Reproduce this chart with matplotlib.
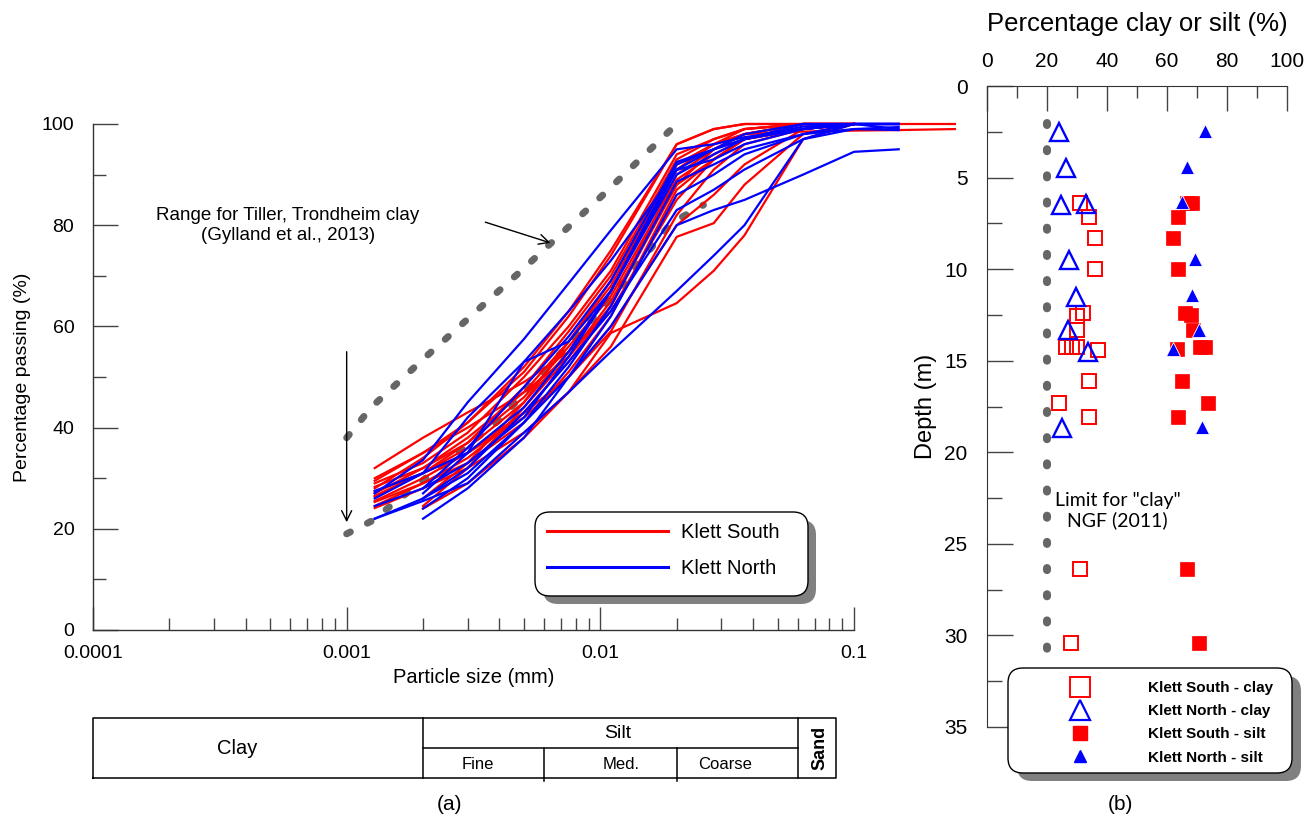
import numpy as np
import matplotlib
matplotlib.use('Agg')
import matplotlib.pyplot as plt
from matplotlib.lines import Line2D
from matplotlib.patches import FancyBboxPatch
from matplotlib.transforms import IdentityTransform
from matplotlib.ticker import LogLocator, NullFormatter, FixedLocator

plt.rcParams['font.family'] = ['Liberation Sans', 'DejaVu Sans']

nan = np.nan

# ---------------- data: grain size curves ----------------
sieve_sizes = [0.00129, 0.002, 0.003, 0.005, 0.0075, 0.011, 0.02, 0.028, 0.037, 0.063, 0.1, 0.15, 0.25]

south_passing = [
    [32.0, 38.0, 43.0, 49.0, 55.0, 63.0, 85.0, 93.0, 97.0, 100, 100, nan, nan],
    [30.0, 35.0, 40.0, 47.0, 54.0, 64.0, 88.0, 95.0, 98.0, 100, 100, nan, nan],
    [29.0, 33.0, 39.0, 50.0, 60.0, 71.0, 94.0, 97.0, 99.0, 100, 100, nan, nan],
    [28.3, 32.0, 37.0, 46.0, 56.0, 66.0, 89.0, 94.0, 97.0, 99, 100, nan, nan],
    [27.3, 31.0, 35.0, 42.0, 50.0, 59.0, 82.0, 91.0, 96.0, 99, 100, nan, nan],
    [26.3, 31.0, 37.0, 48.0, 59.0, 70.0, 93.0, 97.0, 99.0, 100, 100, nan, nan],
    [25.3, 29.0, 33.0, 41.0, 51.0, 62.0, 87.0, 93.0, 97.0, 99, 100, nan, nan],
    [24.1, 28.0, 32.0, 39.0, 47.0, 56.0, 77.7, 80.4, 88.0, 98, 100, nan, nan],
    [29.5, 35.0, 41.0, 51.0, 62.0, 74.0, 96.0, 99.0, 100.0, 100, 100, nan, nan],
    [nan, 24.0, 29.0, 38.0, 47.0, 58.7, 64.6, 71.0, 78.0, 97, 100, nan, nan],
    [nan, 24.5, 32.0, 44.0, 54.0, 65.0, 88.0, 93.0, 97.0, 99, 100, nan, nan],
    [28.0, 34.0, 41.0, 52.0, 63.0, 75.0, 96.0, 99.0, 100.0, 100, 100, 100, 100],
    [27.0, 32.0, 38.0, 47.0, 57.0, 68.0, 92.0, 96.0, 98.0, 98.5, 98.7, 98.8, 99],
    [26.5, 31.0, 36.0, 45.0, 55.0, 67.0, 91.0, 96.0, 99.0, 100, 100, nan, nan],
    [25.5, 30.0, 35.0, 43.0, 53.0, 64.0, 90.0, 95.0, 98.0, 100, 100, nan, nan],
    [nan, 26.0, 33.0, 45.0, 57.0, 69.0, 92.0, 96.0, 98.0, 100, 100, nan, nan],
    [24.5, 29.0, 34.0, 42.9, 50.0, 60.0, 80.0, 86.0, 92.0, 99, 100, nan, nan],
]

north_passing = [
    [27.0, 33.6, 45.0, 57.5, 68.5, 79.0, 95.0, 96.0, 97.4, 99, 100, 100, nan],
    [26.0, 31.0, 42.0, 53.0, 63.0, 73.0, 90.9, 93.0, 96.0, 99, 100, 100, nan],
    [nan, 28.0, 36.0, 48.0, 58.0, 69.0, 92.5, 95.0, 97.0, 100, 100, 100, nan],
    [22.0, 26.0, 31.0, 41.0, 52.0, 64.0, 88.6, 92.0, 95.0, 98, 99, 99.4, nan],
    [22.0, 25.5, 29.0, 39.0, 47.0, 55.0, 67.0, 74.0, 80.0, 97, 100, nan, nan],
    [nan, 24.0, 30.0, 41.0, 50.0, 60.0, 80.0, 83.0, 85.0, 90, 94.5, 95, nan],
    [nan, 26.0, 32.0, 43.0, 53.0, 63.0, 83.0, 87.0, 91.0, 97, 99, 98.8, nan],
    [nan, 27.0, 35.0, 53.0, 57.0, 67.0, 91.0, 95.0, 98.0, 100, 100, 100, nan],
    [27.5, 31.0, 35.0, 44.0, 55.0, 67.0, 92.0, 95.0, 97.0, 99, 100, 100, nan],
    [nan, 22.0, 28.0, 38.0, 50.0, 62.0, 86.0, 90.0, 94.0, 98, 100, 99, nan],
    [24.5, 28.0, 33.0, 42.0, 54.0, 67.0, 90.0, 94.0, 97.0, 99.5, 100, 100, nan],
]

tiller_upper_size = [0.001, 0.00125, 0.002, 0.005, 0.01, 0.02]
tiller_upper_pass = [38, 44, 53.5, 71.5, 85.5, 100]
tiller_lower_size = [0.001, 0.00125, 0.002, 0.004, 0.0106, 0.019, 0.0255]
tiller_lower_pass = [19, 21.5, 29.6, 41.5, 64.6, 80.4, 84]

# soil classification boundaries (mm)
class_edges = [0.0001, 0.002, 0.006, 0.02, 0.06, 0.085]

# ---------------- data: clay / silt content with depth ----------------
south_clay_depth = [6.37, 7.17, 8.32, 10.0, 12.38, 12.56, 13.33, 14.27, 14.27, 14.27, 14.42, 16.1, 17.3, 18.1, 26.4, 30.4]
south_clay_pct   = [31.0, 33.9, 36.0, 36.0, 31.9, 29.9, 29.9, 26.3, 28.2, 30.1, 36.9, 33.9, 24.0, 33.9, 31.0, 27.9]
north_clay_depth = [2.5, 4.5, 6.5, 6.45, 9.5, 11.5, 13.3, 14.5, 18.7]
north_clay_pct   = [24.1, 26.2, 24.8, 33.0, 27.3, 29.6, 27.0, 33.6, 24.9]
south_silt_depth = [6.37, 6.37, 7.17, 8.32, 10.0, 12.38, 12.5, 13.33, 14.38, 14.27, 14.27, 16.1, 17.3, 18.1, 26.4, 30.4]
south_silt_pct   = [66.6, 68.3, 63.8, 61.9, 63.8, 66.0, 67.9, 68.6, 63.2, 71.0, 72.5, 64.9, 73.6, 63.8, 66.8, 70.8]
north_silt_depth = [2.44, 4.4, 6.32, 9.43, 11.4, 13.3, 14.38, 18.64]
north_silt_pct   = [72.7, 66.6, 64.9, 69.3, 68.2, 70.8, 62.1, 71.8]

clay_limit_pct = [20, 20]
clay_limit_depth = [2.0, 31.3]

RED = '#ff0000'
BLUE = '#0000ff'
GREY = '#666666'
TICK = '#444444'

W, H = 1306, 823
fig = plt.figure(figsize=(W / 100, H / 100), dpi=100)


def fx(px):
    return px / W


def fy(py):
    return 1 - py / H


# ================= left panel =================
ax = fig.add_axes([fx(93), fy(630), fx(854) - fx(93), fy(124) - fy(630)])
ax.set_xscale('log')
ax.set_xlim(1e-4, 0.1)
ax.set_ylim(0, 100)
for s in ['top', 'right']:
    ax.spines[s].set_visible(False)
for s in ['left', 'bottom']:
    ax.spines[s].set_color('#333333')
    ax.spines[s].set_linewidth(1.0)

ax.xaxis.set_major_locator(FixedLocator([1e-4, 1e-3, 1e-2, 1e-1]))
ax.set_xticklabels(['0.0001', '0.001', '0.01', '0.1'])
ax.xaxis.set_minor_locator(LogLocator(base=10, subs=np.arange(2, 10)))
ax.xaxis.set_minor_formatter(NullFormatter())
ax.set_yticks([0, 20, 40, 60, 80, 100])
ax.set_yticks([10, 30, 50, 70, 90], minor=True)
ax.tick_params(axis='x', which='major', direction='in', length=16.5, width=1, color=TICK,
               labelsize=14, pad=11)
ax.tick_params(axis='x', which='minor', direction='in', length=8.6, width=1, color=TICK)
ax.tick_params(axis='y', which='major', direction='in', length=18, width=1, color=TICK,
               labelsize=14, pad=13.5)
ax.tick_params(axis='y', which='minor', direction='in', length=9.4, width=1, color=TICK)
ax.set_xlabel('Particle size (mm)', fontsize=14.5, labelpad=4)
ax.set_ylabel('Percentage passing (%)', fontsize=14, labelpad=8)

# Tiller range (dotted)
dot_style = dict(color=GREY, lw=5, linestyle=(0, (0.6, 2.75)), solid_capstyle='round',
                 dash_capstyle='round', zorder=1, clip_on=False)
ax.plot(tiller_upper_size, tiller_upper_pass, **dot_style)
ax.plot(tiller_lower_size, tiller_lower_pass, **dot_style)

xs = np.array(sieve_sizes)
for row in south_passing:
    r = np.array(row, dtype=float)
    m = ~np.isnan(r)
    ax.plot(xs[m], r[m], color=RED, lw=1.6, zorder=2, clip_on=False)
for row in north_passing:
    r = np.array(row, dtype=float)
    m = ~np.isnan(r)
    ax.plot(xs[m], r[m], color=BLUE, lw=1.6, zorder=3, clip_on=False)

ax.text(0.000586, 80.0, 'Range for Tiller, Trondheim clay\n(Gylland et al., 2013)',
        ha='center', va='center', fontsize=13.5, linespacing=1.25)
ax.annotate('', xy=(0.00636, 76.5), xytext=(0.00352, 80.6),
            arrowprops=dict(arrowstyle='->', lw=1, color='black', mutation_scale=18,
                            shrinkA=0, shrinkB=0))
ax.annotate('', xy=(0.001, 21.3), xytext=(0.001, 55.0),
            arrowprops=dict(arrowstyle='->', lw=1, color='black', mutation_scale=18,
                            shrinkA=0, shrinkB=0))

# ================= classification table =================
tax = fig.add_axes([fx(93), fy(778), fx(854) - fx(93), fy(718) - fy(778)])
tax.set_xscale('log')
tax.set_xlim(1e-4, 0.1)
tax.set_ylim(0, 2)
tax.axis('off')
lk = dict(color='black', lw=1.1, clip_on=False)
x0, x_cs, x_fm, x_mc, x_ss, x1 = class_edges
tax.plot([x0, x1, x1, x0, x0], [0, 0, 2, 2, 0], **lk)
tax.plot([x_cs, x_cs], [0, 2], **lk)
tax.plot([x_ss, x_ss], [0, 2], **lk)
tax.plot([x_fm, x_fm], [-0.1, 1], **lk)
tax.plot([x_mc, x_mc], [-0.1, 1], **lk)
tax.plot([x_cs, x_ss], [1, 1], **lk)
tax.text(0.00037, 1.0, 'Clay', ha='center', va='center', fontsize=14.5)
tax.text(0.0117, 1.5, 'Silt', ha='center', va='center', fontsize=14)
tax.text(0.0033, 0.45, 'Fine', ha='center', va='center', fontsize=12)
tax.text(0.0121, 0.45, 'Med.', ha='center', va='center', fontsize=12)
tax.text(0.031, 0.45, 'Coarse', ha='center', va='center', fontsize=12)
tax.text(0.0731, 1.0, 'Sand', ha='center', va='center', fontsize=13,
         rotation=90, fontweight='bold')

fig.text(fx(449), fy(805), '(a)', ha='center', va='center', fontsize=15)
fig.text(fx(1120), fy(805), '(b)', ha='center', va='center', fontsize=15)

# ================= right panel =================
ax2 = fig.add_axes([fx(987), fy(727), fx(1287) - fx(987), fy(86) - fy(727)])
ax2.set_xlim(0, 100)
ax2.set_ylim(35, 0)
ax2.xaxis.tick_top()
ax2.xaxis.set_label_position('top')
for s in ['bottom', 'right']:
    ax2.spines[s].set_visible(False)
for s in ['left', 'top']:
    ax2.spines[s].set_color('#333333')
ax2.set_xticks(np.arange(0, 101, 20))
ax2.set_xticks(np.arange(10, 100, 20), minor=True)
ax2.set_yticks(np.arange(0, 36, 5))
ax2.set_yticks(np.arange(2.5, 35, 5), minor=True)
ax2.tick_params(axis='x', which='major', direction='in', length=18, width=1, color=TICK,
                labelsize=15, pad=11)
ax2.tick_params(axis='x', which='minor', direction='in', length=8.6, width=1, color=TICK)
ax2.tick_params(axis='y', which='major', direction='in', length=19, width=1, color=TICK,
                labelsize=15, pad=14)
ax2.tick_params(axis='y', which='minor', direction='in', length=11, width=1, color=TICK)
ax2.set_xlabel('Percentage clay or silt (%)', fontsize=18.5, labelpad=15)
ax2.set_ylabel('Depth (m)', fontsize=17, labelpad=5)

ax2.plot(clay_limit_pct, clay_limit_depth, color=GREY, lw=5.8, linestyle=(0, (0.25, 3.0)),
         dash_capstyle='round', solid_capstyle='round', zorder=1)
ax2.text(43.5, 23.2, 'Limit for "clay"\nNGF (2011)', ha='center', va='center',
         fontsize=14, family=['Lato', 'DejaVu Sans'], linespacing=1.15)

ax2.plot(south_clay_pct, south_clay_depth, ls='none', marker='s', ms=10.5, mfc='none',
         mec=RED, mew=1.4, zorder=3, clip_on=False)
ax2.plot(south_silt_pct, south_silt_depth, ls='none', marker='s', ms=9.5, mfc=RED,
         mec=RED, mew=0.5, zorder=3, clip_on=False)
ax2.plot(north_clay_pct, north_clay_depth, ls='none', marker='^', ms=13, mfc='none',
         mec=BLUE, mew=1.7, zorder=4, clip_on=False)
ax2.plot(north_silt_pct, north_silt_depth, ls='none', marker='^', ms=9.5, mfc=BLUE,
         mec='white', mew=0.6, zorder=4, clip_on=False)

# ================= legends (frames with offset shadow) =================
def framed_box(x, y, w, h, dx, dy, r):
    yb = H - y - h
    shadow = FancyBboxPatch((x + dx, yb - dy), w, h,
                            boxstyle=f'round,pad=0,rounding_size={r}',
                            transform=IdentityTransform(), facecolor='#808080',
                            edgecolor='none', zorder=3)
    box = FancyBboxPatch((x, yb), w, h, boxstyle=f'round,pad=0,rounding_size={r}',
                         transform=IdentityTransform(), facecolor='white',
                         edgecolor='black', lw=1.0, zorder=4)
    fig.add_artist(shadow)
    fig.add_artist(box)


framed_box(535, 512, 273, 84, 8, 8, 15)
framed_box(1008, 668, 284, 105, 9, 8, 15)

h_left = [Line2D([], [], color=RED, lw=2.2), Line2D([], [], color=BLUE, lw=2.2)]
leg1 = fig.legend(h_left, ['Klett South', 'Klett North'], loc='upper left',
                  bbox_to_anchor=(fx(547), fy(523)), frameon=False, fontsize=14.5,
                  handlelength=6.0, handletextpad=0.65, labelspacing=0.85,
                  borderpad=0, borderaxespad=0)
leg1.set_zorder(6)

h_right = [
    Line2D([], [], ls='none', marker='s', ms=14, mfc='none', mec=RED, mew=1.4),
    Line2D([], [], ls='none', marker='^', ms=15, mfc='none', mec=BLUE, mew=1.6),
    Line2D([], [], ls='none', marker='s', ms=9.5, mfc=RED, mec=RED),
    Line2D([], [], ls='none', marker='^', ms=8, mfc=BLUE, mec=BLUE),
]
leg2 = fig.legend(h_right, ['Klett South - clay', 'Klett North - clay',
                            'Klett South - silt', 'Klett North - silt'],
                  loc='upper left', bbox_to_anchor=(fx(1059), fy(681)), frameon=False,
                  prop=dict(size=11, weight='bold'), handlelength=2.7,
                  handletextpad=3.1, labelspacing=0.6, borderpad=0, borderaxespad=0)
leg2.set_zorder(6)

fig.savefig('out.png', dpi=100)
